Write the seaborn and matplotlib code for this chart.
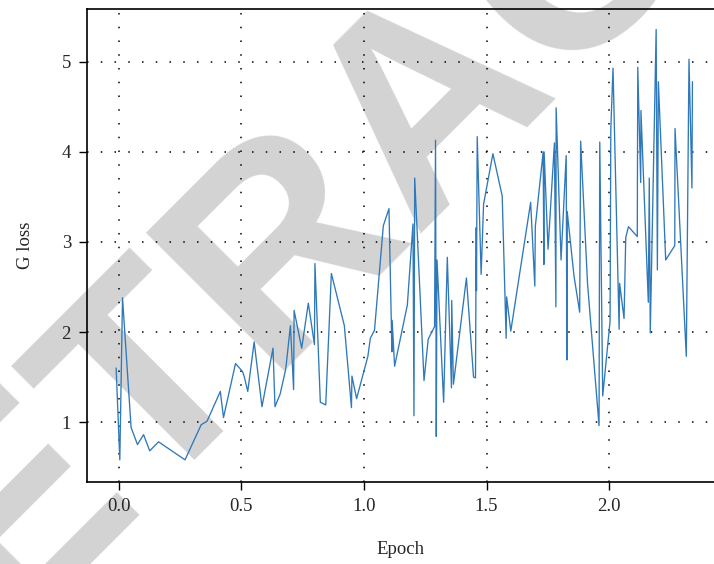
import numpy as np
import matplotlib
matplotlib.use("Agg")
import matplotlib.pyplot as plt
import seaborn as sns
import pandas as pd

# Data (epoch, generator loss)
epoch = [-0.011, 0.004, 0.015, 0.050, 0.076, 0.101, 0.126, 0.162, 0.270, 0.336,
         0.360, 0.414, 0.427, 0.476, 0.505, 0.512, 0.526, 0.552, 0.584, 0.629,
         0.637, 0.658, 0.681, 0.700, 0.713, 0.715, 0.746, 0.773, 0.798, 0.800,
         0.822, 0.844, 0.867, 0.920, 0.949, 0.951, 0.970, 1.016, 1.026, 1.043,
         1.079, 1.102, 1.114, 1.115, 1.125, 1.177, 1.200, 1.204, 1.207, 1.245,
         1.262, 1.288, 1.292, 1.295, 1.298, 1.325, 1.340, 1.357, 1.358, 1.365,
         1.418, 1.447, 1.455, 1.458, 1.459, 1.462, 1.478, 1.488, 1.526, 1.564,
         1.580, 1.582, 1.599, 1.680, 1.697, 1.699, 1.731, 1.734, 1.735, 1.751,
         1.777, 1.783, 1.784, 1.804, 1.825, 1.828, 1.829, 1.857, 1.880, 1.884,
         1.912, 1.959, 1.962, 1.974, 2.004, 2.007, 2.016, 2.041, 2.043, 2.061,
         2.068, 2.079, 2.115, 2.117, 2.129, 2.130, 2.160, 2.164, 2.168, 2.192,
         2.197, 2.201, 2.231, 2.268, 2.269, 2.315, 2.326, 2.338, 2.340]
g_loss = [1.60, 0.58, 2.38, 0.94, 0.75, 0.86, 0.68, 0.78, 0.58, 0.97,
          1.01, 1.34, 1.05, 1.65, 1.56, 1.50, 1.34, 1.89, 1.17, 1.82,
          1.17, 1.31, 1.59, 2.07, 1.36, 2.24, 1.82, 2.32, 1.86, 2.76,
          1.22, 1.19, 2.65, 2.07, 1.16, 1.51, 1.26, 1.73, 1.93, 2.02,
          3.18, 3.37, 1.78, 2.13, 1.62, 2.30, 3.20, 1.07, 3.71, 1.46,
          1.92, 2.06, 4.13, 0.84, 2.80, 1.22, 2.83, 1.38, 2.35, 1.42,
          2.60, 1.50, 1.49, 3.16, 2.46, 4.17, 2.64, 3.42, 3.98, 3.51,
          1.93, 2.39, 2.01, 3.44, 2.51, 3.17, 4.00, 2.75, 4.00, 2.92,
          4.10, 2.28, 4.49, 2.80, 3.96, 1.69, 3.34, 2.62, 2.22, 4.12,
          2.54, 0.96, 4.11, 1.29, 2.12, 4.25, 4.93, 2.03, 2.54, 2.15,
          3.05, 3.17, 3.06, 4.94, 3.66, 4.46, 2.33, 3.71, 1.99, 5.36,
          2.69, 4.78, 2.80, 2.96, 4.26, 1.73, 5.03, 3.60, 4.78]

df = pd.DataFrame({"Epoch": epoch, "G loss": g_loss})

sns.set_style("white")
plt.rcParams['font.family'] = ['Liberation Serif', 'DejaVu Serif']

fig = plt.figure(figsize=(7.14, 5.64), dpi=100)
ax = fig.add_axes([0.1218, 0.1454, 0.8782, 0.8387])
ax.patch.set_alpha(0)

# watermark behind the axes
fig.text(0.605, 0.822, "RETRACTED", family="Liberation Sans", weight="bold",
         fontsize=205, color="#d3d3d3", rotation=45, rotation_mode="anchor",
         ha="center", va="center", zorder=-5)

sns.lineplot(data=df, x="Epoch", y="G loss", ax=ax, sort=False, estimator=None,
             color="#2f78ba", linewidth=0.95)

ax.set_xlim(-0.130, 2.428)
ax.set_ylim(0.334, 5.588)
ax.set_xticks([0.0, 0.5, 1.0, 1.5, 2.0])
ax.set_yticks([1, 2, 3, 4, 5])
ax.set_xticklabels(["0.0", "0.5", "1.0", "1.5", "2.0"])

ax.grid(True, color="black", linestyle=(0, (1, 8)), linewidth=1.1)
for side in ["left", "bottom", "top"]:
    ax.spines[side].set_color("black")
    ax.spines[side].set_linewidth(1.2)
ax.spines["right"].set_visible(False)

ax.tick_params(axis="both", direction="out", length=5.5, width=1, color="black",
               labelsize=13.5, pad=6, bottom=True, left=True)
ax.set_xlabel("Epoch", fontsize=13.5, labelpad=19)
ax.set_ylabel("G loss", fontsize=13.5, labelpad=20)

fig.savefig("out.png", dpi=100)
